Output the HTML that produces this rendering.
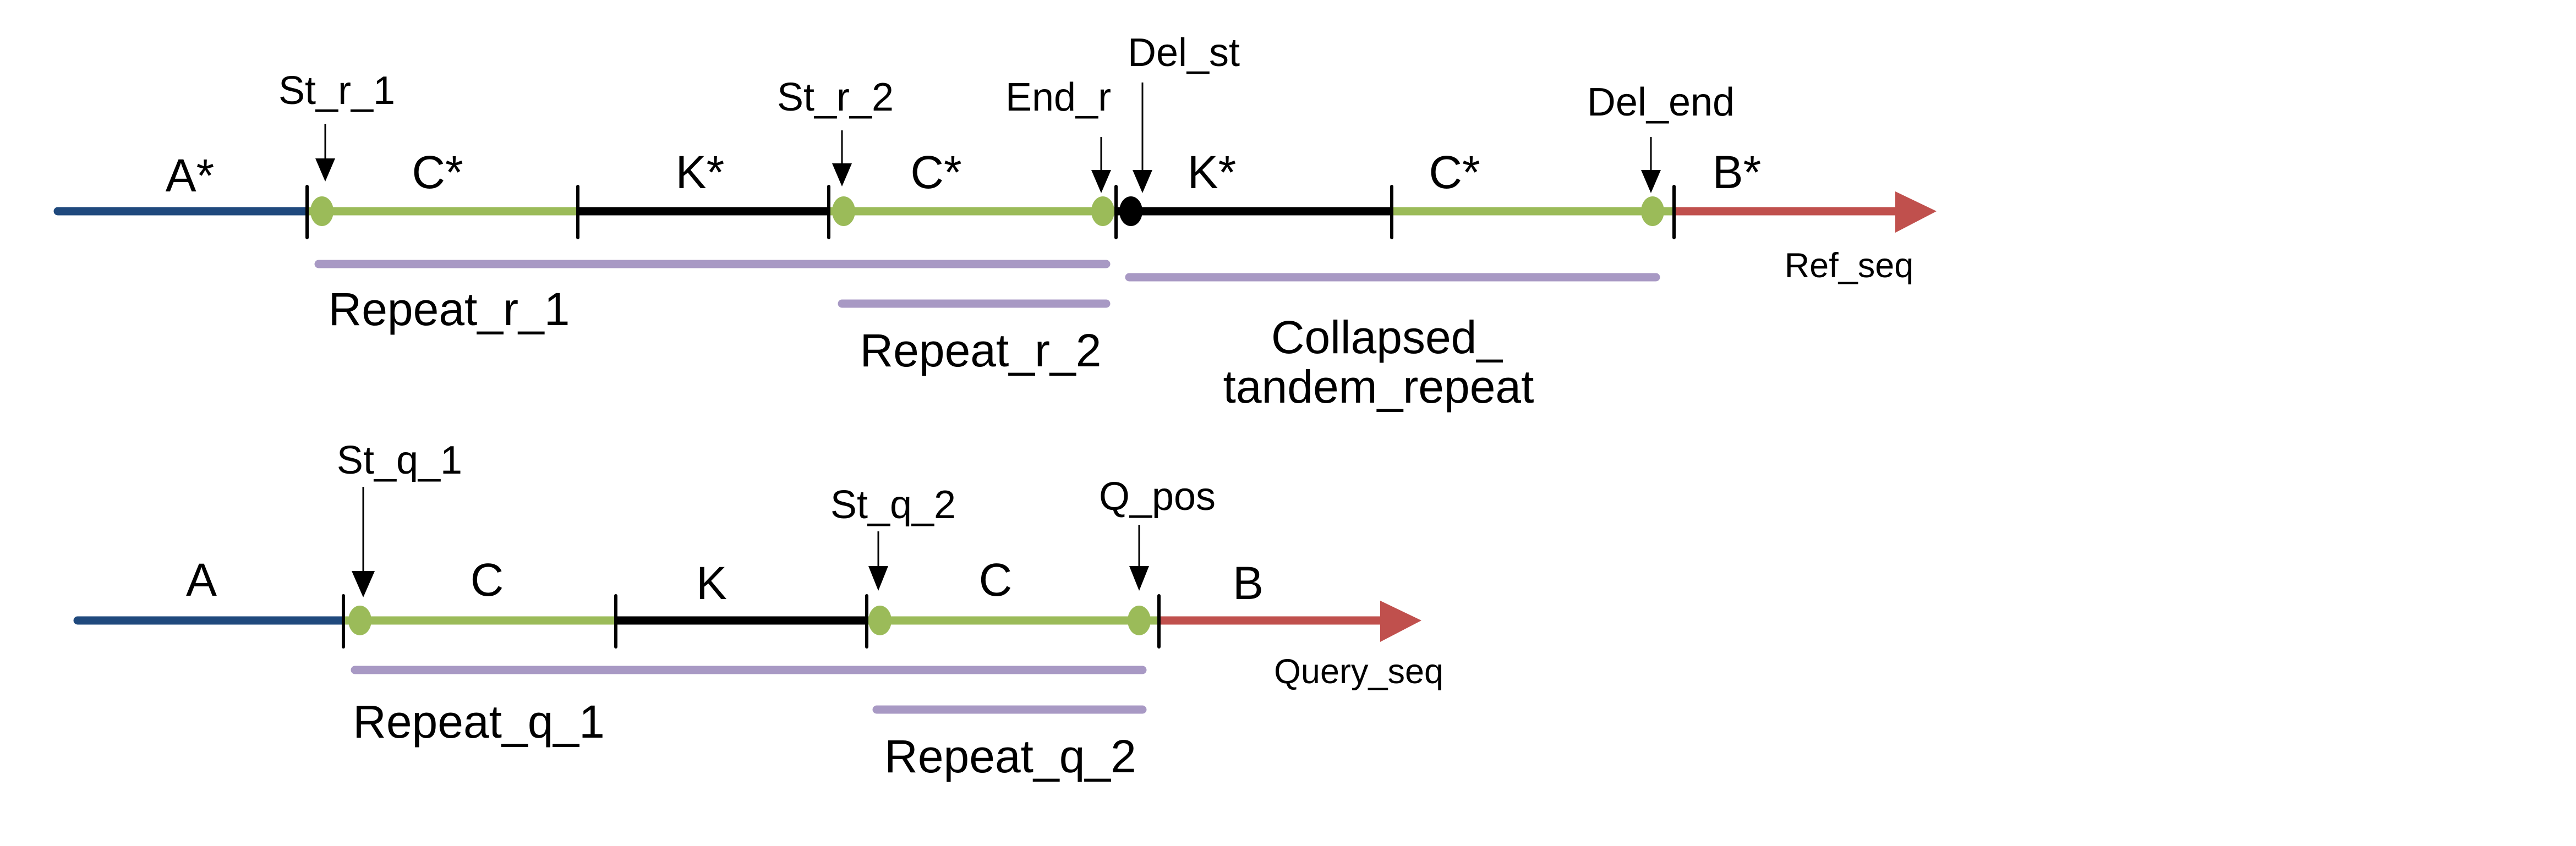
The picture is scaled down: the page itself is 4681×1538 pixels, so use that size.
<!DOCTYPE html>
<html><head><style>html,body{margin:0;padding:0;background:#fff}svg{display:block}</style></head>
<body>
<svg width="4681" height="1538" viewBox="0 0 1560.33 512.67" xmlns="http://www.w3.org/2000/svg" font-family="Liberation Sans, Arial, sans-serif">
<g stroke-linecap="round">
<line x1="35" y1="128" x2="186" y2="128" stroke="#1f497d" stroke-width="5"/>
<line x1="186" y1="128" x2="350" y2="128" stroke="#9bbb59" stroke-width="5" stroke-linecap="butt"/>
<line x1="350" y1="128" x2="502" y2="128" stroke="#000" stroke-width="5" stroke-linecap="butt"/>
<line x1="502" y1="128" x2="676" y2="128" stroke="#9bbb59" stroke-width="5" stroke-linecap="butt"/>
<line x1="676" y1="128" x2="843" y2="128" stroke="#000" stroke-width="5" stroke-linecap="butt"/>
<line x1="843" y1="128" x2="1014" y2="128" stroke="#9bbb59" stroke-width="5" stroke-linecap="butt"/>
<line x1="1014" y1="128" x2="1150" y2="128" stroke="#c0504d" stroke-width="5" stroke-linecap="butt"/>
<polygon points="1148,116 1173,128 1148,141" fill="#c0504d"/>
<ellipse cx="195" cy="128" rx="7" ry="9" fill="#9bbb59"/>
<ellipse cx="511" cy="128" rx="7" ry="9" fill="#9bbb59"/>
<ellipse cx="668" cy="128" rx="7" ry="9" fill="#9bbb59"/>
<ellipse cx="685" cy="128" rx="7" ry="9" fill="#000"/>
<ellipse cx="1001" cy="128" rx="7" ry="9" fill="#9bbb59"/>
<g stroke="#000" stroke-width="2">
<line x1="186" y1="113" x2="186" y2="144"/><line x1="350" y1="113" x2="350" y2="144"/>
<line x1="502" y1="113" x2="502" y2="144"/><line x1="676" y1="113" x2="676" y2="144"/>
<line x1="843" y1="113" x2="843" y2="144"/><line x1="1014" y1="113" x2="1014" y2="144"/>
</g>
<g stroke="#a899c4" stroke-width="5">
<line x1="193" y1="160" x2="670" y2="160"/>
<line x1="510" y1="184" x2="670" y2="184"/>
<line x1="684" y1="168" x2="1003" y2="168"/>
</g>
<line x1="47" y1="376" x2="208" y2="376" stroke="#1f497d" stroke-width="5"/>
<line x1="208" y1="376" x2="373" y2="376" stroke="#9bbb59" stroke-width="5" stroke-linecap="butt"/>
<line x1="373" y1="376" x2="525" y2="376" stroke="#000" stroke-width="5" stroke-linecap="butt"/>
<line x1="525" y1="376" x2="702" y2="376" stroke="#9bbb59" stroke-width="5" stroke-linecap="butt"/>
<line x1="702" y1="376" x2="838" y2="376" stroke="#c0504d" stroke-width="5" stroke-linecap="butt"/>
<polygon points="836,364 861,376 836,389" fill="#c0504d"/>
<ellipse cx="218" cy="376" rx="7" ry="9" fill="#9bbb59"/>
<ellipse cx="533" cy="376" rx="7" ry="9" fill="#9bbb59"/>
<ellipse cx="690" cy="376" rx="7" ry="9" fill="#9bbb59"/>
<g stroke="#000" stroke-width="2">
<line x1="208" y1="361" x2="208" y2="392"/><line x1="373" y1="361" x2="373" y2="392"/>
<line x1="525" y1="361" x2="525" y2="392"/><line x1="702" y1="361" x2="702" y2="392"/>
</g>
<g stroke="#a899c4" stroke-width="5">
<line x1="215" y1="406" x2="692" y2="406"/>
<line x1="531" y1="430" x2="692" y2="430"/>
</g>
</g>
<g stroke="#000" stroke-width="1">
<line x1="197" y1="75" x2="197" y2="98"/><line x1="510" y1="79" x2="510" y2="100"/>
<line x1="667" y1="83" x2="667" y2="104"/><line x1="692" y1="50" x2="692" y2="104"/>
<line x1="1000" y1="83" x2="1000" y2="104"/>
<line x1="220" y1="295" x2="220" y2="348"/><line x1="532" y1="322" x2="532" y2="344"/>
<line x1="690" y1="318" x2="690" y2="344"/>
</g>
<g fill="#000">
<polygon points="191,96 203,96 197,110"/>
<polygon points="504,99 516,99 510,113"/>
<polygon points="661,103 673,103 667,117"/>
<polygon points="686,103 698,103 692,117"/>
<polygon points="994,103 1006,103 1000,117"/>
<polygon points="213,346 227,346 220,362"/>
<polygon points="526,343 538,343 532,358"/>
<polygon points="684,343 696,343 690,358"/>
</g>
<g fill="#000" text-anchor="middle">
<g font-size="24">
<text x="204" y="63">St_r_1</text>
<text x="506" y="67">St_r_2</text>
<text x="641" y="67">End_r</text>
<text x="717" y="40">Del_st</text>
<text x="1006" y="70">Del_end</text>
<text x="242" y="287">St_q_1</text>
<text x="541" y="314">St_q_2</text>
<text x="701" y="309">Q_pos</text>
</g>
<g font-size="21">
<text x="1120" y="168">Ref_seq</text>
<text x="823" y="414">Query_seq</text>
</g>
<g font-size="28">
<text x="115" y="116">A*</text><text x="265" y="114">C*</text><text x="424" y="114">K*</text>
<text x="567" y="114">C*</text><text x="734" y="114">K*</text><text x="881" y="114">C*</text>
<text x="1052" y="114">B*</text>
<text x="122" y="361">A</text><text x="295" y="361">C</text><text x="431" y="363">K</text>
<text x="603" y="361">C</text><text x="756" y="363">B</text>
<text x="272" y="197">Repeat_r_1</text>
<text x="594" y="222">Repeat_r_2</text>
<text x="840" y="214">Collapsed_</text>
<text x="835" y="244">tandem_repeat</text>
<text x="290" y="447">Repeat_q_1</text>
<text x="612" y="468">Repeat_q_2</text>
</g>
</g>
</svg>
</body></html>
